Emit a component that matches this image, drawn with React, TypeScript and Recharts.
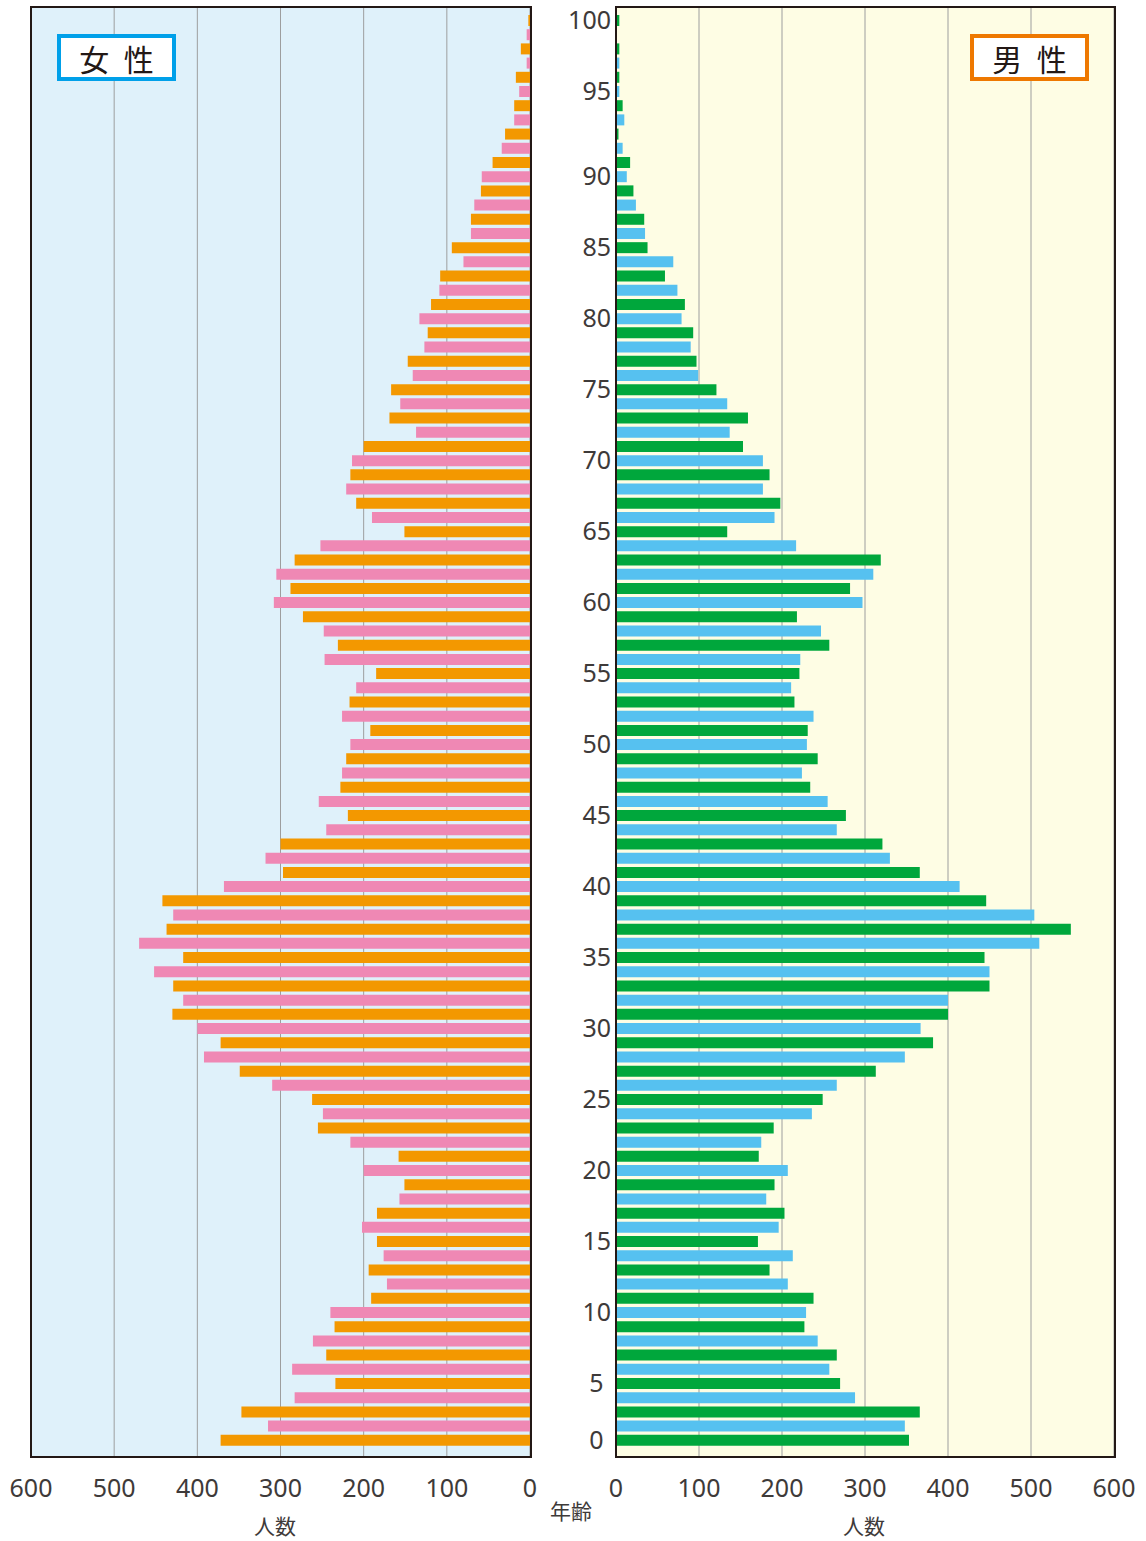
import React from 'react';
import { BarChart, Bar, XAxis, YAxis, CartesianGrid, Cell } from 'recharts';

// Ages 0..100 (categories)
const ages: number[] = Array.from({ length: 101 }, (_, i) => i);

// Female population by age 0..100
const femaleValues: number[] = [
  372, 315, 347, 283, 234, 286, 245, 261, 235, 240,
  191, 172, 194, 176, 184, 202, 184, 157, 151, 200,
  158, 216, 255, 249, 262, 310, 349, 392, 372, 400,
  430, 417, 429, 452, 417, 470, 437, 429, 442, 368,
  297, 318, 300, 245, 219, 254, 228, 226, 221, 216,
  192, 226, 217, 209, 185, 247, 231, 248, 273, 308,
  288, 305, 283, 252, 151, 190, 209, 221, 216, 214,
  200, 137, 169, 156, 167, 141, 147, 127, 123, 133,
  119, 109, 108, 80, 94, 71, 71, 67, 59, 58,
  45, 34, 30, 19, 19, 13, 17, 4, 11, 4,
  2,
];

// Male population by age 0..100
const maleValues: number[] = [
  353, 348, 366, 288, 270, 257, 266, 243, 227, 229,
  238, 207, 185, 213, 171, 196, 203, 181, 191, 207,
  172, 175, 190, 236, 249, 266, 313, 348, 382, 367,
  400, 400, 450, 450, 444, 510, 548, 504, 446, 414,
  366, 330, 321, 266, 277, 255, 234, 224, 243, 230,
  231, 238, 215, 211, 221, 222, 257, 247, 218, 297,
  282, 310, 319, 217, 134, 191, 198, 177, 185, 177,
  153, 137, 159, 134, 121, 99, 97, 90, 93, 79,
  83, 74, 59, 69, 38, 35, 34, 24, 21, 13,
  17, 8, 3, 10, 8, 4, 4, 4, 4, 0,
  4,
];

const valueTicks: number[] = [0, 100, 200, 300, 400, 500, 600];
// rows (ages) next to which the age labels are printed, and their texts
const ageTickRows: number[] = [0, 4, 9, 14, 19, 24, 29, 34, 39, 44, 49, 54, 59, 64, 69, 74, 79, 84, 89, 95, 100];
const ageTickLabels: string[] = ['0', '5', '10', '15', '20', '25', '30', '35', '40', '45', '50', '55', '60', '65', '70', '75', '80', '85', '90', '95', '100'];

const rows = ages
  .map((age, i) => ({ age, female: femaleValues[i], male: maleValues[i] }))
  .reverse();

const ORANGE = '#F39800';
const PINK = '#EF88B4';
const GREEN = '#00A73C';
const BLUE = '#56C1F0';
const LEFT_BG = '#DFF1FA';
const RIGHT_BG = '#FEFDE4';
const GRID = '#9d9e9e';
const TEXT = '#3e3a39';
const NUM_FONT = '"Noto Sans", "Open Sans", sans-serif';
const CJK_FONT = '"Noto Sans CJK JP", "Noto Sans", sans-serif';

const tickStyle = { fontSize: 25, fill: TEXT, fontFamily: NUM_FONT };

const AgeTick = (props: any) => {
  const { y, payload } = props;
  const idx = ageTickRows.indexOf(payload.value);
  if (idx < 0) return <g />;
  const label = ageTickLabels[idx];
  const single = label.length === 1;
  return (
    <text
      x={single ? 56.5 : 71}
      y={y}
      dy="0.36em"
      textAnchor={single ? 'middle' : 'end'}
      fontSize={25}
      fill={TEXT}
      fontFamily={NUM_FONT}
    >
      {label}
    </text>
  );
};

const boxBase: React.CSSProperties = {
  position: 'absolute',
  boxSizing: 'border-box',
  width: 119,
  height: 47,
  background: '#fff',
  display: 'flex',
  alignItems: 'center',
  justifyContent: 'center',
  fontFamily: CJK_FONT,
  fontSize: 30,
  letterSpacing: 4,
  paddingLeft: 4,
  color: '#231815',
  lineHeight: 1,
};

const caption: React.CSSProperties = {
  position: 'absolute',
  fontFamily: CJK_FONT,
  fontSize: 21,
  color: TEXT,
  lineHeight: 1,
  transform: 'translate(-50%, -50%)',
  whiteSpace: 'nowrap',
};

export default function App() {
  return (
    <div style={{ position: 'absolute', left: 0, top: 0, width: 1146, height: 1541, background: '#fff' }}>
      {/* Female (left) */}
      <div style={{ position: 'absolute', left: 0, top: 0 }}>
        <BarChart
          width={561}
          height={1541}
          data={rows}
          layout="vertical"
          margin={{ top: 7, right: 31, left: 31, bottom: 44 }}
          barSize={11}
        >
          <CartesianGrid horizontal={false} vertical stroke={GRID} strokeWidth={1} fill={LEFT_BG} fillOpacity={1} />
          <XAxis
            type="number"
            domain={[0, 600]}
            ticks={valueTicks}
            interval={0}
            reversed
            axisLine={false}
            tickLine={false}
            tickSize={0}
            tickMargin={22}
            height={40}
            tick={tickStyle}
          />
          <YAxis type="category" dataKey="age" hide padding={{ top: 6, bottom: 10 }} />
          <Bar dataKey="female" isAnimationActive={false}>
            {rows.map((r) => (
              <Cell key={r.age} fill={r.age % 2 === 0 ? ORANGE : PINK} />
            ))}
          </Bar>
        </BarChart>
      </div>

      {/* Male (right) */}
      <div style={{ position: 'absolute', left: 540, top: 0 }}>
        <BarChart
          width={606}
          height={1541}
          data={rows}
          layout="vertical"
          margin={{ top: 7, right: 32, left: 0, bottom: 44 }}
          barSize={11}
        >
          <CartesianGrid horizontal={false} vertical stroke={GRID} strokeWidth={1} fill={RIGHT_BG} fillOpacity={1} />
          <XAxis
            type="number"
            domain={[0, 600]}
            ticks={valueTicks}
            interval={0}
            axisLine={false}
            tickLine={false}
            tickSize={0}
            tickMargin={22}
            height={40}
            tick={tickStyle}
          />
          <YAxis
            type="category"
            dataKey="age"
            width={76}
            interval={0}
            axisLine={false}
            tickLine={false}
            tick={<AgeTick />}
            padding={{ top: 6, bottom: 10 }}
          />
          <Bar dataKey="male" isAnimationActive={false}>
            {rows.map((r) => (
              <Cell key={r.age} fill={r.age % 2 === 0 ? GREEN : BLUE} />
            ))}
          </Bar>
        </BarChart>
      </div>

      {/* Plot borders */}
      <div style={{ position: 'absolute', left: 30, top: 6, width: 502, height: 1452, border: '2px solid #231815', boxSizing: 'border-box', pointerEvents: 'none' }} />
      <div style={{ position: 'absolute', left: 615, top: 6, width: 501, height: 1452, border: '2px solid #231815', boxSizing: 'border-box', pointerEvents: 'none' }} />

      {/* Sex labels */}
      <div style={{ ...boxBase, left: 57, top: 34, border: '4px solid #00A0E9' }}>女 性</div>
      <div style={{ ...boxBase, left: 970, top: 34, border: '4px solid #EE7800' }}>男 性</div>

      {/* Axis captions */}
      <div style={{ ...caption, left: 275, top: 1525 }}>人数</div>
      <div style={{ ...caption, left: 864, top: 1525 }}>人数</div>
      <div style={{ ...caption, left: 571, top: 1510 }}>年齢</div>
    </div>
  );
}
